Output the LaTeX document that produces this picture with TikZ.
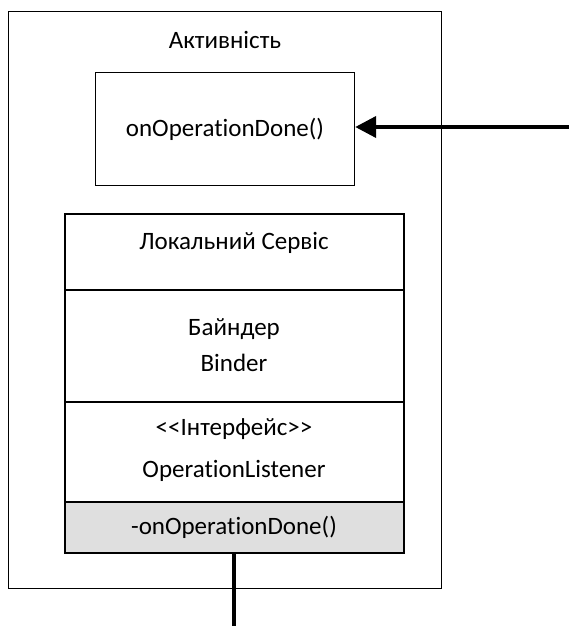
\documentclass[tikz,border=0pt]{standalone}
\usepackage{fontspec}
\setmainfont{Carlito}[Ligatures={NoCommon}]
\usetikzlibrary{arrows.meta}
\begin{document}
\begin{tikzpicture}[x=1pt,y=-1pt,
  box/.style={draw=black,line width=1.2pt},
  lbl/.style={font=\fontsize{25}{29}\selectfont,inner sep=0pt,anchor=center},
  thick connector/.style={line width=4pt}]
\useasboundingbox (0,0) rectangle (569,626);
% outer activity box
\node[box,minimum width=433pt,minimum height=577pt,anchor=north west,inner sep=0pt] (act) at (8,11) {};
\node[lbl] (acttitle) at (225,40) {Активність};
% callback box
\node[box,minimum width=259pt,minimum height=113pt,anchor=north west,inner sep=0pt] (cb) at (95,72) {};
\node[lbl] (cbtext) at (225,129) {onOperationDone()};
% service box sections
\fill[gray!25] (65,502) rectangle (404,553);
\draw[box] (65,214) rectangle (404,553);
\draw[box] (65,290) -- (404,290);
\draw[box] (65,402) -- (404,402);
\draw[box] (65,502) -- (404,502);
\draw[line width=2.4pt] (65,553) -- (405,553);
\node[lbl] (svc) at (234,243) {Локальний Сервіс};
\node[lbl] (bind1) at (234,329) {Байндер};
\node[lbl] (bind2) at (234,363) {Binder};
\node[lbl] (iface) at (234,429) {<{}<Інтерфейс>{}>};
\node[lbl] (listener) at (234,471) {OperationListener};
\node[lbl] (method) at (234,527) {-onOperationDone()};
\coordinate (methodbot) at (234,553);
\coordinate (extright) at (569,127);
\coordinate (extbottom) at (234,626);
\coordinate (cbright) at (cb.east |- extright);
% connectors
\draw[thick connector,-{Triangle[length=21pt,width=21pt]}] (extright) -- (cbright);
\draw[thick connector] (methodbot) -- (extbottom);
\end{tikzpicture}
\end{document}
